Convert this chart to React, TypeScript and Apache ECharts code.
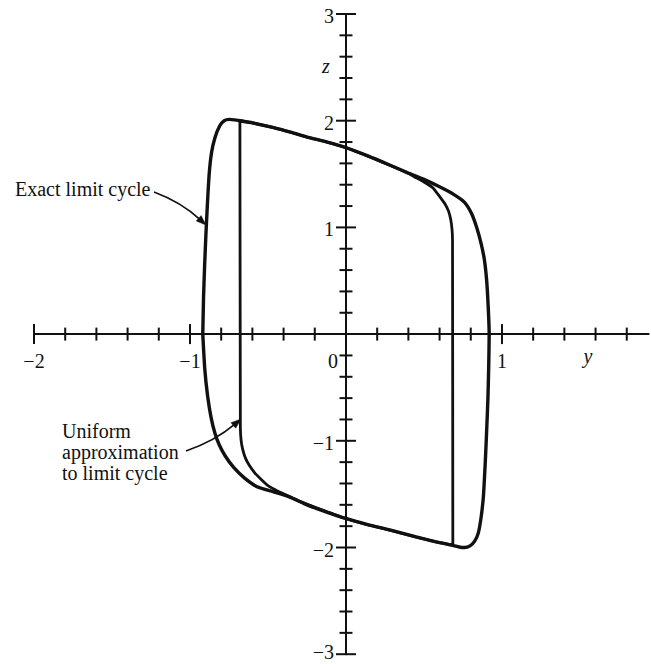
import { useEffect, useRef } from "react";
import * as echarts from "echarts";

// Axis ticks (y is horizontal, z is vertical)
const yTickValues = [-2, -1.8, -1.6, -1.4, -1.2, -1, -0.8, -0.6, -0.4, -0.2, 0.2, 0.4, 0.6, 0.8, 1, 1.2, 1.4, 1.6, 1.8];
const zTickValues = [-3, -2.8, -2.6, -2.4, -2.2, -2, -1.8, -1.6, -1.4, -1.2, -1, -0.8, -0.6, -0.4, -0.2, 0.2, 0.4, 0.6, 0.8, 1, 1.2, 1.4, 1.6, 1.8, 2, 2.2, 2.4, 2.6, 2.8, 3];
const yLabelValues = [-2, -1, 0, 1];
const yLabelTexts = ["\u22122", "\u22121", "0", "1"];
const zLabelValues = [-3, -2, -1, 1, 2, 3];
const zLabelTexts = ["\u22123", "\u22122", "\u22121", "1", "2", "3"];

// Exact limit cycle, traced clockwise from the left side
const exactLeftSide: [number, number][] = [
  [-0.918, 0], [-0.913, 0.35], [-0.906, 0.65], [-0.898, 0.93], [-0.889, 1.2], [-0.877, 1.5],
  [-0.862, 1.7], [-0.84, 1.84], [-0.81, 1.95], [-0.78, 2.0], [-0.75, 2.012], [-0.715, 2.008], [-0.68, 2.0],
];
const exactUpperBranch: [number, number][] = [
  [-0.6, 1.98], [-0.47, 1.937], [-0.35, 1.89], [-0.25, 1.847], [-0.12, 1.8], [0, 1.748], [0.14, 1.67],
  [0.28, 1.585], [0.4, 1.51], [0.5, 1.45], [0.6, 1.38], [0.69, 1.31], [0.76, 1.235], [0.805, 1.13],
  [0.84, 0.99], [0.866, 0.85], [0.887, 0.7], [0.902, 0.5], [0.912, 0.25], [0.918, 0],
];
const exactRightSide: [number, number][] = [
  [0.915, -0.3], [0.91, -0.6], [0.902, -0.9], [0.893, -1.2], [0.881, -1.52], [0.866, -1.72],
  [0.848, -1.865], [0.825, -1.94], [0.795, -1.985], [0.76, -2.0], [0.725, -1.995], [0.69, -1.982],
];
const exactLowerBranch: [number, number][] = [
  [0.6, -1.955], [0.45, -1.9], [0.28, -1.835], [0.14, -1.785], [0, -1.728], [-0.12, -1.67],
  [-0.25, -1.6], [-0.36, -1.528], [-0.46, -1.48], [-0.57, -1.43], [-0.65, -1.35], [-0.72, -1.25],
  [-0.775, -1.14], [-0.812, -1.04], [-0.84, -0.93], [-0.865, -0.78], [-0.887, -0.58], [-0.905, -0.33],
  [-0.918, 0],
];

// Uniform approximation: two fast jumps joined by the slow branches
const approxLeftJump: [number, number][] = [[-0.68, 2.0], [-0.677, -0.88]];
const approxLowerBend: [number, number][] = [
  [-0.672, -1.0], [-0.662, -1.08], [-0.645, -1.16], [-0.62, -1.23], [-0.585, -1.3], [-0.545, -1.36],
  [-0.5, -1.42], [-0.44, -1.47], [-0.38, -1.51],
];
const approxLowerBranch: [number, number][] = [
  [-0.3, -1.565], [-0.15, -1.65], [0, -1.73], [0.14, -1.787], [0.28, -1.837], [0.45, -1.902],
  [0.6, -1.955], [0.685, -1.978],
];
const approxRightJump: [number, number][] = [[0.683, 0.88]];
const approxUpperBend: [number, number][] = [
  [0.68, 0.98], [0.672, 1.07], [0.658, 1.15], [0.635, 1.22], [0.6, 1.29], [0.558, 1.37],
  [0.5, 1.425], [0.45, 1.465],
];
const approxUpperBranch: [number, number][] = [
  [0.4, 1.505], [0.28, 1.582], [0.14, 1.668], [0, 1.746], [-0.12, 1.8], [-0.25, 1.847],
  [-0.35, 1.89], [-0.47, 1.937], [-0.6, 1.98], [-0.68, 2.0],
];

const INK = "#111";
const SERIF = '"Liberation Serif", "DejaVu Serif", serif';
const LABEL_FONT = `20px ${SERIF}`;

function isMajor(v: number) {
  return Math.abs(v - Math.round(v)) < 1e-6;
}

// Filled arrowhead whose tip sits at (tx, ty), pointing away from (fx, fy)
function arrowHead(tx: number, ty: number, fx: number, fy: number, len: number, half: number) {
  const dx = tx - fx;
  const dy = ty - fy;
  const d = Math.hypot(dx, dy);
  const ux = dx / d;
  const uy = dy / d;
  const bx = tx - ux * len;
  const by = ty - uy * len;
  return {
    base: [bx + ux * 2, by + uy * 2],
    points: [
      [tx, ty],
      [bx - uy * half, by + ux * half],
      [bx + uy * half, by - ux * half],
    ],
  };
}

function arrow(sx: number, sy: number, cx: number, cy: number, tx: number, ty: number) {
  const head = arrowHead(tx, ty, cx, cy, 10, 3.6);
  return [
    {
      type: "bezierCurve",
      shape: { x1: sx, y1: sy, cpx1: cx, cpy1: cy, x2: head.base[0], y2: head.base[1] },
      style: { stroke: INK, lineWidth: 1.7, fill: null },
      silent: true,
    },
    {
      type: "polygon",
      shape: { points: head.points },
      style: { fill: INK, stroke: INK, lineWidth: 0.5 },
      silent: true,
    },
  ];
}

export default function App() {
  const ref = useRef<HTMLDivElement>(null);

  useEffect(() => {
    document.body.style.margin = "0";
    if (!ref.current) return;
    const chart = echarts.init(ref.current, undefined, { renderer: "svg" });

    const exactCycle = [...exactLeftSide, ...exactUpperBranch, ...exactRightSide, ...exactLowerBranch];
    const approxCycle = [
      ...approxLeftJump, ...approxLowerBend, ...approxLowerBranch,
      ...approxRightJump, ...approxUpperBend, ...approxUpperBranch,
    ];

    const axisCommon = {
      type: "value" as const,
      axisLine: { show: true, onZero: true, lineStyle: { color: INK, width: 2 } },
      axisTick: { show: false },
      axisLabel: { show: false },
      splitLine: { show: false },
    };

    const textStyle = (text: string, font: string, align = "left") => ({
      text, font, fill: INK, align, verticalAlign: "middle",
    });

    chart.setOption({
      animation: false,
      backgroundColor: "#fff",
      grid: { left: 34, top: 14, width: 614.6, height: 640.2, containLabel: false, outerBoundsMode: "none" },
      xAxis: { ...axisCommon, min: -2, max: 1.94 },
      yAxis: { ...axisCommon, min: -3, max: 3 },
      graphic: [
        { type: "text", x: 15, y: 189, silent: true, style: textStyle("Exact limit cycle", `20px ${SERIF}`) },
        { type: "text", x: 62, y: 431, silent: true, style: textStyle("Uniform", `20px ${SERIF}`) },
        { type: "text", x: 62, y: 452, silent: true, style: textStyle("approximation", `20px ${SERIF}`) },
        { type: "text", x: 62, y: 473, silent: true, style: textStyle("to limit cycle", `20px ${SERIF}`) },
        { type: "text", x: 588, y: 356, silent: true, style: textStyle("y", `italic 20px ${SERIF}`, "center") },
        { type: "text", x: 326, y: 66, silent: true, style: textStyle("z", `italic 20px ${SERIF}`, "center") },
        ...arrow(154, 192, 181, 202, 206, 225),
        ...arrow(186, 451, 215, 441, 241, 419),
      ],
      series: [
        {
          name: "Exact limit cycle",
          type: "line",
          data: exactCycle,
          showSymbol: false,
          smooth: 0.2,
          silent: true,
          lineStyle: { color: INK, width: 3.4 },
          z: 3,
        },
        {
          name: "Uniform approximation to limit cycle",
          type: "line",
          data: approxCycle,
          showSymbol: false,
          smooth: 0.15,
          silent: true,
          lineStyle: { color: INK, width: 2.8 },
          z: 3,
        },
        {
          name: "y ticks",
          type: "custom",
          silent: true,
          clip: false,
          data: yTickValues.map((v) => [v, 0]),
          renderItem: (_p: any, api: any) => {
            const v = api.value(0);
            const p = api.coord([v, 0]);
            const h = isMajor(v) ? 10 : 6.5;
            return {
              type: "line",
              shape: { x1: p[0], y1: p[1] - h, x2: p[0], y2: p[1] + h },
              style: { stroke: INK, lineWidth: 2 },
            };
          },
          z: 2,
        },
        {
          name: "z ticks",
          type: "custom",
          silent: true,
          clip: false,
          data: zTickValues.map((v) => [0, v]),
          renderItem: (_p: any, api: any) => {
            const v = api.value(1);
            const p = api.coord([0, v]);
            const h = isMajor(v) ? 10 : 6.5;
            return {
              type: "line",
              shape: { x1: p[0] - h, y1: p[1], x2: p[0] + h, y2: p[1] },
              style: { stroke: INK, lineWidth: 2 },
            };
          },
          z: 2,
        },
        {
          name: "y labels",
          type: "custom",
          silent: true,
          clip: false,
          data: yLabelValues.map((v) => [v, 0]),
          renderItem: (params: any, api: any) => {
            const v = api.value(0);
            const p = api.coord([v, 0]);
            const shift = v === 0 ? -13 : 0;
            return {
              type: "text",
              x: p[0] + shift,
              y: p[1] + 27,
              style: textStyle(yLabelTexts[params.dataIndex], LABEL_FONT, "center"),
            };
          },
          z: 2,
        },
        {
          name: "z labels",
          type: "custom",
          silent: true,
          clip: false,
          data: zLabelValues.map((v) => [0, v]),
          renderItem: (params: any, api: any) => {
            const v = api.value(1);
            const p = api.coord([0, v]);
            // keep the lowest label inside the canvas
            const y = Math.min(p[1] + 2, 664 - 12);
            return {
              type: "text",
              x: p[0] - 12,
              y,
              style: textStyle(zLabelTexts[params.dataIndex], LABEL_FONT, "right"),
            };
          },
          z: 2,
        },
      ],
    });

    return () => chart.dispose();
  }, []);

  return <div ref={ref} style={{ width: 651, height: 664 }} />;
}
